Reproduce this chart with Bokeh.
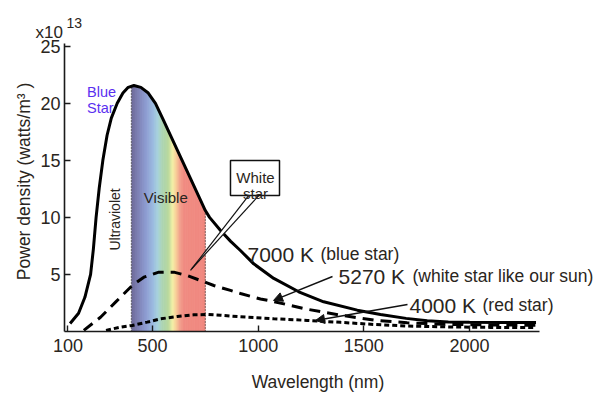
import numpy as np
from math import pi
from bokeh.plotting import figure
from bokeh.models import Range1d, FixedTicker, Label, Arrow, NormalHead
from bokeh.embed import file_html
from bokeh.resources import INLINE

# ---- data (power density, x10^13) ----
hot_x = [110, 150, 180, 207, 220, 233, 248, 265, 285, 305, 333, 360, 385, 412, 445, 480,
         514, 550, 590, 640, 680, 720, 750, 770, 822, 870, 916, 979, 1074, 1192, 1310,
         1469, 1579, 1700, 1800, 1900, 2000, 2150, 2315]
hot_y = [0.7, 1.6, 3.0, 5.0, 7.2, 10.0, 12.6, 15.0, 17.2, 18.7, 20.0, 20.9, 21.4, 21.56,
         21.4, 20.9, 20.0, 18.6, 17.0, 15.0, 13.4, 11.8, 10.6, 10.0, 8.85, 7.9, 7.1, 5.93,
         4.65, 3.48, 2.6, 1.87, 1.49, 1.15, 0.95, 0.83, 0.8, 0.78, 0.78]

sun_x = [175, 254, 325, 404, 459, 530, 601, 664, 727, 790, 869, 916, 1011, 1074, 1150,
         1232, 1390, 1547, 1705, 1900, 2100, 2315]
sun_y = [0.1, 1.25, 2.57, 4.03, 4.76, 5.2, 5.2, 4.9, 4.47, 4.03, 3.6, 3.33, 2.85, 2.62,
         2.3, 1.95, 1.43, 1.0, 0.76, 0.62, 0.57, 0.55]

red_x = [280, 349, 404, 475, 538, 617, 695, 759, 822, 916, 979, 1074, 1232, 1390, 1547,
         1700, 1900, 2100, 2315]
red_y = [0.1, 0.38, 0.53, 0.82, 1.11, 1.31, 1.46, 1.49, 1.42, 1.29, 1.22, 1.12, 0.97,
         0.8, 0.62, 0.48, 0.4, 0.36, 0.35]

visible_band = [400, 750]
spectrum_nm = [400, 430, 470, 505, 525, 545, 575, 595, 612, 630, 650, 750]
spectrum_col = ["#6c6896", "#7d80b4", "#8e9dd2", "#9cbde0", "#a8d3dc", "#acd4b4",
                "#b8d89c", "#f4f0a6", "#f8cc98", "#f2a08c", "#f08b82", "#f0887f"]

x_ticks = [100, 500, 1000, 1500, 2000]
y_ticks = [5, 10, 15, 20, 25]
x_axis_span = (83.5, 2331)
y_axis_span = (0, 25.2)

TXT = "#2a2520"
FONT = "Liberation Sans"

# the frame covers the whole canvas; axes are pinned inside it
p = figure(width=602, height=395, x_range=Range1d(-219.4, 2629.6),
           y_range=Range1d(-5.61, 29.01),
           output_backend="svg", toolbar_location=None,
           min_border=0, min_border_left=0, min_border_right=0, min_border_top=0,
           min_border_bottom=0,
           background_fill_color="white", border_fill_color="white")
p.outline_line_color = None
p.xgrid.visible = False
p.ygrid.visible = False

for ax in (p.xaxis, p.yaxis):
    ax.axis_line_color = "#1a1a1a"
    ax.axis_line_width = 1.6
    ax.major_tick_line_color = "#1a1a1a"
    ax.major_tick_line_width = 1.4
    ax.major_tick_in = 6
    ax.major_tick_out = 0
    ax.minor_tick_in = 0
    ax.minor_tick_out = 0
    ax.major_label_text_font = FONT
    ax.major_label_text_font_size = "18px"
    ax.major_label_text_color = TXT
p.xaxis.ticker = FixedTicker(ticks=x_ticks)
p.yaxis.ticker = FixedTicker(ticks=y_ticks)
p.xaxis.major_label_standoff = 8
p.yaxis.major_label_standoff = 4
p.xaxis.fixed_location = y_axis_span[0]
p.yaxis.fixed_location = x_axis_span[0]
p.xaxis.bounds = x_axis_span
p.yaxis.bounds = y_axis_span

# ---- visible spectrum under the hot curve ----
def hex2rgb(h):
    return [int(h[i:i + 2], 16) for i in (1, 3, 5)]

rgb = np.array([hex2rgb(c) for c in spectrum_col], dtype=float)
step = 3.0
edges = np.arange(visible_band[0], visible_band[1], step)
xs, ys, cols = [], [], []
for a in edges:
    bb = min(a + 2 * step, visible_band[1])
    xs.append([a, bb, bb, a])
    ys.append([0, 0, float(np.interp(bb, hot_x, hot_y)), float(np.interp(a, hot_x, hot_y))])
    m = a + step / 2
    c = [int(round(np.interp(m, spectrum_nm, rgb[:, k]))) for k in range(3)]
    cols.append("#%02x%02x%02x" % tuple(c))
p.patches(xs=xs, ys=ys, fill_color=cols, line_color=None)

# dotted boundaries of the visible band
tops = [float(np.interp(v, hot_x, hot_y)) for v in visible_band]
p.segment(x0=visible_band, y0=[0, 0], x1=visible_band, y1=tops,
          line_color="#333333", line_width=1.2, line_dash="1 2")

# ---- curves ----
p.line(red_x, red_y, line_color="black", line_width=3, line_dash="5 3")
p.line(sun_x, sun_y, line_color="black", line_width=3, line_dash="11 7")
p.line(hot_x, hot_y, line_color="black", line_width=3)

# ---- "White star" callout ----
p.patch(x=[955.7, 1003, 679.8], y=[11.92, 11.92, 5.35], fill_color="white", line_color=None)
p.segment(x0=[955.7, 1003], y0=[11.92, 11.92], x1=[679.8, 686], y1=[5.35, 5.5],
          line_color="#111111", line_width=1.2)
p.quad(left=[869], right=[1101], bottom=[11.92], top=[14.99], fill_color="white",
       line_color="#111111", line_width=1.5)

def lab(x, y, t, size, color=TXT, align="left", base="alphabetic", angle=0):
    p.add_layout(Label(x=x, y=y, text=t, text_font=FONT, text_font_size=size,
                       text_color=color, text_align=align, text_baseline=base,
                       angle=angle))

lab(987.5, 13.5, "White", "15px", align="center")
lab(987.5, 12.09, "star", "15px", align="center")

# ---- annotations ----
lab(-53.7, 26.2, "x10", "17px")
lab(93.0, 27.08, "13", "14px")
lab(190.0, 21.0, "Blue", "14.5px", color="#5a2ff0")
lab(190.0, 19.6, "Star", "14.5px", color="#5a2ff0")
lab(320.2, 9.82, "Ultraviolet", "14px", align="center", base="middle", angle=pi / 2)
lab(458.9, 11.77, "Visible", "15px")

lab(949.6, 6.75, "7000 K", "21px")
lab(1295, 6.75, "(blue star)", "17.5px")
lab(1380.3, 4.82, "5270 K", "21px")
lab(1730.5, 4.82, "(white star like our sun)", "17.5px")
lab(1716, 2.28, "4000 K", "21px")
lab(2061.7, 2.28, "(red star)", "17.5px")

p.add_layout(Arrow(end=NormalHead(size=9, fill_color="#111111", line_color="#111111"),
                   x_start=1351.9, y_start=4.82, x_end=1072.6, y_end=2.72,
                   line_color="#111111", line_width=1.4))
p.add_layout(Arrow(end=NormalHead(size=9, fill_color="#111111", line_color="#111111"),
                   x_start=1706.8, y_start=2.37, x_end=1271.4, y_end=0.96,
                   line_color="#111111", line_width=1.4))

# axis titles
lab(1283, -4.47, "Wavelength (nm)", "17.5px", align="center")
lab(-110.5, 13.15, "Power density (watts/m\u00b3 )", "17.5px", align="center",
    base="middle", angle=pi / 2)

open("out.html", "w").write(file_html(p, INLINE))
